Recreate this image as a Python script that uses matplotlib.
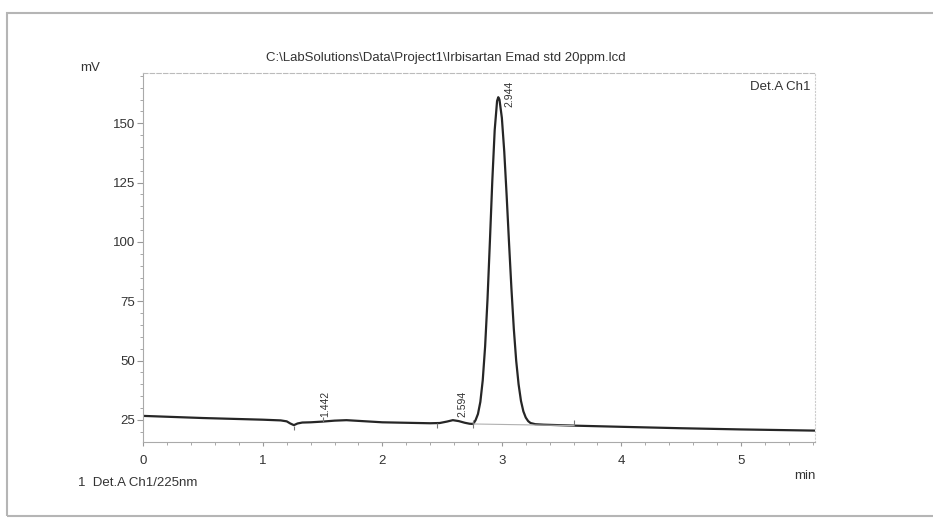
import matplotlib
matplotlib.use("Agg")
import matplotlib.pyplot as plt
from matplotlib.patches import Rectangle
from matplotlib.ticker import MultipleLocator

plt.rcParams["font.family"] = ["Liberation Sans", "DejaVu Sans"]

# ==============================
# Data
# ==============================

time_min = [
    0.00, 0.50, 1.00, 1.15, 1.20, 1.23, 1.26, 1.29, 1.33, 1.40, 1.50, 1.60,
    1.70, 1.80, 2.00, 2.20, 2.40, 2.48, 2.54, 2.59, 2.64, 2.69, 2.73, 2.76,
    2.78, 2.80, 2.82, 2.84, 2.86, 2.88, 2.90, 2.92, 2.94, 2.96, 2.97, 2.98,
    3.00, 3.02, 3.04, 3.06, 3.08, 3.10, 3.12, 3.14, 3.16, 3.18, 3.20, 3.22,
    3.24, 3.28, 3.35, 3.60, 4.00, 4.50, 5.00, 5.62,
]
signal_mv = [
    26.7, 25.8, 25.1, 24.8, 24.4, 23.5, 22.8, 23.5, 23.9, 24.0, 24.3, 24.7,
    24.9, 24.6, 24.0, 23.8, 23.6, 23.7, 24.3, 24.9, 24.5, 23.8, 23.4, 23.3,
    24.9, 27.5, 32.6, 41.7, 56.0, 75.9, 100.3, 125.7, 147.1, 159.4, 161.0, 160.0,
    152.3, 138.1, 119.6, 99.6, 80.4, 63.4, 49.9, 40.0, 33.0, 28.6, 26.0, 24.5,
    23.7, 23.2, 23.0, 22.6, 22.1, 21.5, 21.0, 20.5,
]

peak_labels = ["1.442", "2.594", "2.944"]
peak_label_x = [1.52, 2.67, 3.06]
peak_label_y = [26.4, 26.1, 157.0]

# integration marks (time, low, high)
event_t = [1.26, 1.50, 2.46, 2.76, 3.60]
event_lo = [20.8, 24.0, 21.6, 21.5, 22.3]
event_hi = [22.6, 26.4, 23.6, 25.0, 25.0]

# integration baseline under the main peak
base_t = [2.76, 3.60]
base_mv = [23.3, 22.6]

# ==============================
# Figure
# ==============================

W, H = 933, 519
fig = plt.figure(figsize=(W / 100, H / 100), dpi=100)

# screenshot frame
fig.patches.append(Rectangle((7.5 / W, 1 - 516 / H), 1.0, (516 - 12.5) / H,
                             transform=fig.transFigure, fill=False,
                             edgecolor="#b5b5b5", linewidth=1.5))

ax = fig.add_axes([143.3 / W, 1 - 442 / H, (815 - 143.3) / W, (442 - 73) / H])

ax.plot(time_min, signal_mv, color="#262626", linewidth=1.6)
ax.plot(base_t, base_mv, color="#b0b0b0", linewidth=0.8)
ax.vlines(event_t, event_lo, event_hi, color="#777777", linewidth=0.8)

for lab, x, y in zip(peak_labels, peak_label_x, peak_label_y):
    ax.text(x, y, lab, rotation=90, ha="center", va="bottom",
            fontsize=7.5, color="#333333")

ax.set_xlim(0, 5.62)
ax.set_ylim(15.7, 171.2)

ax.xaxis.set_major_locator(MultipleLocator(1))
ax.xaxis.set_minor_locator(MultipleLocator(0.2))
ax.yaxis.set_major_locator(MultipleLocator(25))
ax.yaxis.set_minor_locator(MultipleLocator(5))
ax.set_yticks([25, 50, 75, 100, 125, 150])

ax.tick_params(axis="both", which="both", colors="#999999",
               labelcolor="#333333", labelsize=9.5)
ax.tick_params(axis="y", which="major", length=4, width=0.8, pad=2)
ax.tick_params(axis="y", which="minor", length=2.5, width=0.6)
ax.tick_params(axis="x", which="major", length=3, width=0.8, pad=6)
ax.tick_params(axis="x", which="minor", length=2, width=0.6)

ax.spines["left"].set_color("#aaaaaa")
ax.spines["bottom"].set_color("#aaaaaa")
ax.spines["top"].set_color("#bbbbbb")
ax.spines["top"].set_linestyle((0, (4, 2)))
ax.spines["right"].set_color("#cccccc")
ax.spines["right"].set_linestyle((0, (1, 2)))
for s in ax.spines.values():
    s.set_linewidth(0.8)

# ==============================
# Texts
# ==============================

fig.text(446 / W, 1 - 58 / H,
         "C:\\LabSolutions\\Data\\Project1\\Irbisartan Emad std 20ppm.lcd",
         ha="center", va="center", fontsize=9.5, color="#333333")
fig.text(90 / W, 1 - 68 / H, "mV", ha="center", va="center",
         fontsize=9.5, color="#333333")
fig.text(810 / W, 1 - 87 / H, "Det.A Ch1", ha="right", va="center",
         fontsize=9.5, color="#333333")
fig.text(816 / W, 1 - 476 / H, "min", ha="right", va="center",
         fontsize=9.5, color="#333333")
fig.text(78 / W, 1 - 483 / H, "1  Det.A Ch1/225nm", ha="left", va="center",
         fontsize=9.5, color="#333333")

fig.savefig("out.png", dpi=100)
plt.close(fig)
